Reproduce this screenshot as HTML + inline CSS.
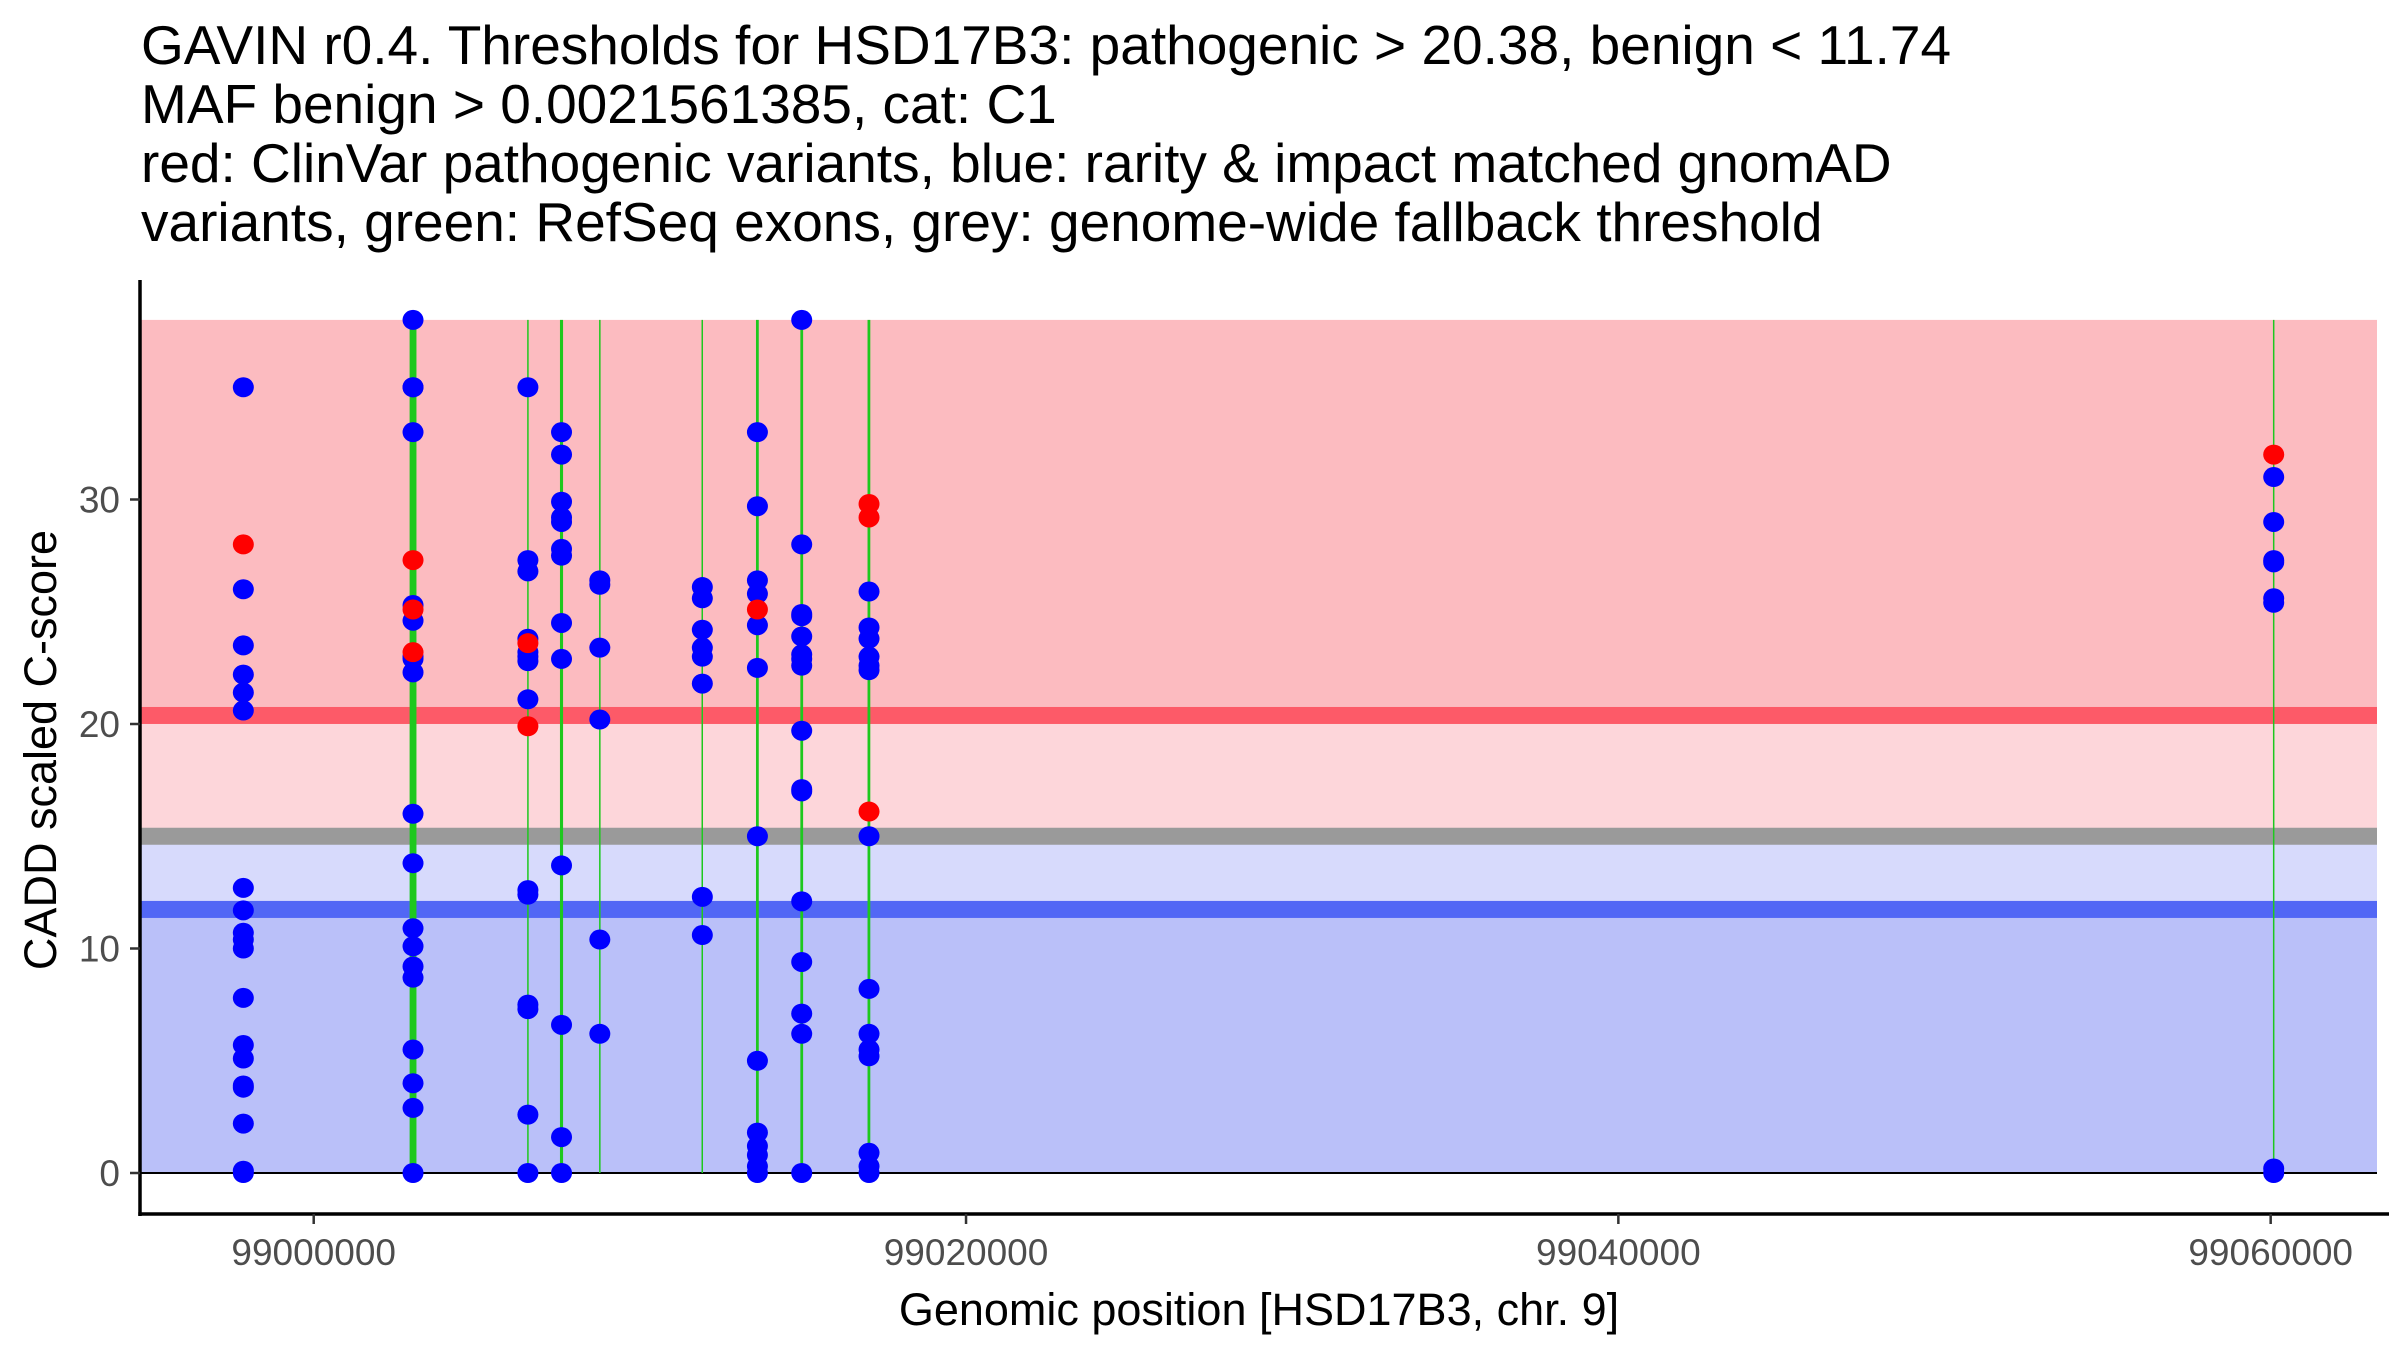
<!DOCTYPE html>
<html><head><meta charset="utf-8"><style>
html,body{margin:0;padding:0;background:#fff;}
svg{display:block;font-family:"Liberation Sans",Arial,sans-serif;}
</style></head><body>
<svg id="chart" width="2400" height="1350" viewBox="0 0 2400 1350" xmlns="http://www.w3.org/2000/svg">
<g font-size="55" fill="#000">
<text x="141" y="64">GAVIN r0.4. Thresholds for HSD17B3: pathogenic &gt; 20.38, benign &lt; 11.74</text>
<text x="141" y="123">MAF benign &gt; 0.0021561385, cat: C1</text>
<text x="141" y="182">red: ClinVar pathogenic variants, blue: rarity &amp; impact matched gnomAD</text>
<text x="141" y="241">variants, green: RefSeq exons, grey: genome-wide fallback threshold</text>
</g>
<g id="bands"></g>
<g id="exons"></g>
<g id="points"></g>
<g id="axes"></g>
<text x="1259" y="1325" font-size="45" text-anchor="middle">Genomic position [HSD17B3, chr. 9]</text>
<text transform="translate(56,750) rotate(-90)" font-size="45" text-anchor="middle">CADD scaled C-score</text>
</svg>
<script>
const NS="http://www.w3.org/2000/svg";
const thresholds=[20.38,11.74,15.0,38.0];
const yTicks=[0,10,20,30];
const xTicks=[99000000,99020000,99040000,99060000];
const xTickLabels=["99000000","99020000","99040000","99060000"];
const exonStart=[99002940,99006550,99007550,99008760,99011900,99013560,99014920,99016980,99060080];
const exonEnd=[99003150,99006585,99007645,99008785,99011925,99013645,99015005,99017065,99060105];
const blueX=[
98997842,98997842,98997842,98997842,98997842,98997842,98997842,98997842,98997842,98997842,98997842,98997842,98997842,98997842,98997842,98997842,98997842,98997842,98997842,
99003045,99003045,99003045,99003045,99003045,99003045,99003045,99003045,99003045,99003045,99003045,99003045,99003045,99003045,99003045,99003045,99003045,99003045,99003045,
99006567,99006567,99006567,99006567,99006567,99006567,99006567,99006567,99006567,99006567,99006567,99006567,99006567,99006567,
99007598,99007598,99007598,99007598,99007598,99007598,99007598,99007598,99007598,99007598,99007598,99007598,99007598,
99008772,99008772,99008772,99008772,99008772,99008772,
99011915,99011915,99011915,99011915,99011915,99011915,99011915,99011915,
99013604,99013604,99013604,99013604,99013604,99013604,99013604,99013604,99013604,99013604,99013604,99013604,99013604,
99014962,99014962,99014962,99014962,99014962,99014962,99014962,99014962,99014962,99014962,99014962,99014962,99014962,99014962,99014962,99014962,
99017026,99017026,99017026,99017026,99017026,99017026,99017026,99017026,99017026,99017026,99017026,99017026,99017026,99017026,
99060093,99060093,99060093,99060093,99060093,99060093,99060093,99060093];
const blueY=[
35,26,23.5,22.2,21.4,20.6,12.7,11.7,10.7,10.4,10,7.8,5.7,5.1,3.9,3.8,2.2,0.1,0,
38,35,35,33,25.3,24.6,23,22.3,22.9,16,13.8,10.9,10.1,9.2,8.7,5.5,4,2.9,0,
35,27.3,26.8,23.8,23.2,22.8,23,21.1,12.6,12.4,7.5,7.3,2.6,0,
33,32,29.9,29.2,29,27.8,27.5,24.5,22.9,13.7,6.6,1.6,0,
26.4,26.2,23.4,20.2,10.4,6.2,
26.1,25.6,24.2,23.4,23.0,21.8,12.3,10.6,
33,29.7,26.4,25.8,24.4,22.5,15,5,1.8,1.2,0.8,0.3,0,
38,28,24.9,24.8,23.9,23.1,22.9,22.6,19.7,17.1,17,12.1,9.4,7.1,6.2,0,
25.9,24.3,23.8,23,22.6,22.4,15,8.2,6.2,5.5,5.2,0.9,0.3,0,
31,29,27.3,27.2,25.6,25.4,0.2,0];
const redX=[98997842,99003045,99003045,99003045,99006567,99006567,99013604,99017026,99017026,99017026,99060093];
const redY=[28,27.3,25.1,23.2,23.6,19.9,25.1,29.8,29.2,16.1,32];

const X0=98994674,X1=99063260,PX0=140,PX1=2377;
const Y0=0,PY0=1173,PPU=22.45;
function sx(v){return PX0+(v-X0)/(X1-X0)*(PX1-PX0);}
function sy(v){return PY0-(v-Y0)*PPU;}
function mk(tag,attrs,parent){const e=document.createElementNS(NS,tag);for(const k in attrs)e.setAttribute(k,attrs[k]);parent.appendChild(e);return e;}

const bandsG=document.getElementById('bands');
const pathoT=thresholds[0],benignT=thresholds[1],fallbackT=thresholds[2],topT=thresholds[3];
let r;
r=mk('rect',{x:PX0,y:sy(topT),width:PX1-PX0,height:sy(pathoT)-sy(topT),fill:'#fcbbc0'},bandsG);


r=mk('rect',{x:PX0,y:sy(pathoT),width:PX1-PX0,height:sy(fallbackT)-sy(pathoT),fill:'#fdd6da'},bandsG);


r=mk('rect',{x:PX0,y:sy(fallbackT),width:PX1-PX0,height:sy(benignT)-sy(fallbackT),fill:'#d7dafc'},bandsG);


r=mk('rect',{x:PX0,y:sy(benignT),width:PX1-PX0,height:sy(0)-sy(benignT),fill:'#bac0f9'},bandsG);


r=mk('rect',{x:PX0,y:sy(pathoT)-8.5,width:PX1-PX0,height:17,fill:'#fd5a68'},bandsG);


r=mk('rect',{x:PX0,y:sy(fallbackT)-8.5,width:PX1-PX0,height:17,fill:'#9a9a9a'},bandsG);


r=mk('rect',{x:PX0,y:sy(benignT)-8.5,width:PX1-PX0,height:17,fill:'#5267f5'},bandsG);


r=mk('line',{x1:PX0,x2:PX1,y1:sy(0),y2:sy(0),stroke:'#000','stroke-width':2},bandsG);



const exonsG=document.getElementById('exons');
for(let i=0;i<exonStart.length;i++){
  const a=sx(exonStart[i]),b=sx(exonEnd[i]);
  const w=Math.max(1.5,b-a);
  const e=mk('rect',{x:(a+b)/2-w/2,y:sy(topT),width:w,height:sy(0)-sy(topT),fill:'#1ec81e'},exonsG);
  
  
}
const ptsG=document.getElementById('points');
for(let i=0;i<blueX.length;i++){
  const c=mk('ellipse',{cx:sx(blueX[i]),cy:sy(blueY[i]),rx:10.5,ry:10,fill:'#0000ff'},ptsG);
  
  
}
for(let i=0;i<redX.length;i++){
  const c=mk('ellipse',{cx:sx(redX[i]),cy:sy(redY[i]),rx:10.5,ry:10,fill:'#ff0000'},ptsG);
  
  
}
const axesG=document.getElementById('axes');
let ax=mk('line',{x1:PX0,x2:PX0,y1:280,y2:1216,stroke:'#000','stroke-width':3.5},axesG);


ax=mk('line',{x1:PX0-1.7,x2:PX1+12,y1:1214,y2:1214,stroke:'#000','stroke-width':3.5},axesG);


yTicks.forEach(v=>{
  const t=mk('line',{x1:PX0-10,x2:PX0,y1:sy(v),y2:sy(v),stroke:'#333','stroke-width':2.5},axesG);
  
  
  const l=mk('text',{x:PX0-20,y:sy(v)+13,'font-size':37,fill:'#4d4d4d','text-anchor':'end'},axesG);
  l.textContent=String(v);
  
  
});
xTicks.forEach((v,i)=>{
  const t=mk('line',{x1:sx(v),x2:sx(v),y1:1214,y2:1224,stroke:'#333','stroke-width':2.5},axesG);
  
  
  const l=mk('text',{x:sx(v),y:1265,'font-size':37,fill:'#4d4d4d','text-anchor':'middle'},axesG);
  l.textContent=xTickLabels[i];
  
  
});
</script>
</body></html>
